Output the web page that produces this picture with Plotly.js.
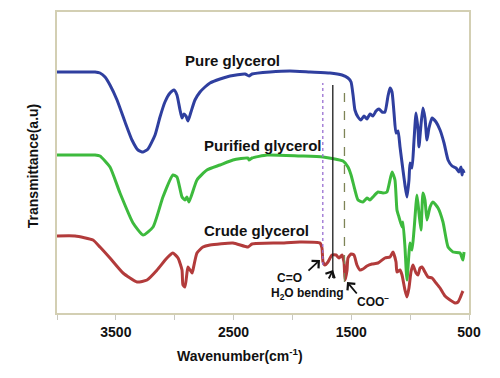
<!DOCTYPE html>
<html>
<head>
<meta charset="utf-8">
<script src="https://cdn.plot.ly/plotly-3.0.1.min.js"></script>
<style>html,body{margin:0;padding:0;background:#fff;}#chart{width:500px;height:378px;}</style>
</head>
<body>
<div id="chart"></div>
<script>
// Pure glycerol (blue)
const pureWn = [4000,3805,3677,3635,3592,3550,3490,3422,3363,3312,3269,3227,3167,3125,3083,3040,3006,2981,2955,2938,2921,2904,2887,2862,2828,2785,2743,2700,2615,2530,2403,2369,2343,2191,2021,1851,1681,1579,1528,1502,1485,1469,1443,1418,1392,1367,1341,1316,1290,1265,1239,1214,1188,1171,1154,1137,1120,1103,1086,1061,1044,1027,1010,1001,984,967,950,933,925,908,891,874,857,840,814,780,746,712,678,644,610,585,568,559,551,542];
const pureT  = [241,241,241,240,236,228,213,191,173,163,161,164,178,196,211,220,223,218,203,195,199,197,192,201,213,221,226,230,234,237,239,237,239,241,242,241,240,238,235,231,218,203,196,193,197,194,199,197,202,204,201,201,217,225,221,200,180,182,166,143,128,116,133,150,145,173,200,183,166,188,205,195,173,185,195,191,183,170,153,147,145,141,146,138,143,140];

// Purified glycerol (green)
const purifiedWn = [4000,3805,3677,3635,3550,3465,3354,3269,3184,3100,3015,2981,2938,2913,2896,2879,2811,2726,2615,2505,2377,2369,2343,2216,1936,1740,1570,1528,1502,1469,1443,1401,1367,1341,1316,1273,1231,1197,1154,1129,1112,1095,1069,1061,1044,1027,1001,984,967,942,925,908,891,874,857,831,806,763,721,678,636,576,559,551,542];
const purifiedT  = [158,158,158,157,146,120,90,78,86,116,138,136,116,113,116,111,133,143,148,153,155,153,155,158,157,156,152,146,138,123,113,111,115,113,116,121,120,121,141,133,103,96,86,91,66,33,70,63,83,118,100,83,120,113,93,106,111,105,91,66,61,60,55,53,61];

// Crude glycerol (red)
const crudeWn = [4000,3847,3694,3635,3550,3439,3320,3235,3150,3066,3015,2972,2938,2930,2913,2896,2887,2853,2845,2811,2760,2700,2505,2377,2343,2106,1936,1766,1749,1740,1723,1698,1664,1630,1604,1579,1562,1553,1536,1528,1502,1477,1452,1426,1401,1367,1324,1273,1214,1171,1146,1120,1112,1086,1069,1044,1027,1010,993,976,950,933,916,899,874,848,814,780,746,704,661,619,593,576,559,551];
const crudeT  = [77,77,73,66,55,40,31,33,43,55,60,55,43,28,26,40,46,40,43,60,66,68,70,66,69,70,71,70,65,51,48,51,58,58,55,58,51,33,43,55,59,58,48,43,44,47,49,50,55,56,61,51,41,43,38,23,16,25,41,48,40,38,45,46,41,36,35,30,25,17,13,10,11,15,20,22];

// Band marker lines (C=O, H2O bending, COO-)
const bandWn     = [1742, 1657, 1558];
const bandTop    = [230, 228, 222];
const bandBottom = [48, 35, 31];
const bandColors = ['#9a70d2', '#1a1a1a', '#7d8456'];
const bandDash   = ['dot', 'solid', 'dash'];

const seriesNames = ['Pure glycerol', 'Purified glycerol', 'Crude glycerol'];
const tickVals = [4000,3500,3000,2500,2000,1500,1000,500];
const tickText = ['','3500','','2500','','1500','','500'];

const FONT = 'Liberation Sans, Arial, sans-serif';

const traces = [
  {x: pureWn, y: pureT, mode: 'lines', line: {color: '#2f3f9f', width: 3, shape: 'spline', smoothing: 0.5}, name: seriesNames[0]},
  {x: purifiedWn, y: purifiedT, mode: 'lines', line: {color: '#3dba3d', width: 3, shape: 'spline', smoothing: 0.5}, name: seriesNames[1]},
  {x: crudeWn, y: crudeT, mode: 'lines', line: {color: '#b23b3b', width: 3, shape: 'spline', smoothing: 0.5}, name: seriesNames[2]}
];
bandWn.forEach((w, i) => {
  traces.push({x: [w, w], y: [bandBottom[i], bandTop[i]], mode: 'lines',
    line: {color: bandColors[i], width: 1.3, dash: bandDash[i]}, hoverinfo: 'skip'});
});

const bold = (size) => ({family: FONT, size: size, color: '#111', weight: 'bold'});
const txt = (x, y, text, size, extra) => Object.assign({x: x, y: y, xref: 'x', yref: 'y', text: text,
  showarrow: false, xanchor: 'center', yanchor: 'middle', font: bold(size)}, extra || {});
const arrow = (x, y, ax, ay) => ({x: x, y: y, xref: 'x', yref: 'y', ax: ax, ay: ay, text: '',
  showarrow: true, arrowhead: 4, arrowsize: 1.1, arrowwidth: 1.8, arrowcolor: '#111'});

const annotations = [
  txt(2513, 253, seriesNames[0], 15),
  txt(2250, 168, seriesNames[1], 15),
  txt(2309, 83, seriesNames[2], 15),
  txt(2021, 35, 'C=O', 12),
  txt(1876, 19, 'H<sub>2</sub>O bending', 12),
  txt(1316, 12, 'COO<sup>−</sup>', 12),
  arrow(1766, 53, -13, 12),
  arrow(1655, 43, -5, 10),
  arrow(1536, 31, 11, 13),
  {x: 0.444, y: -0.14, xref: 'paper', yref: 'paper', xanchor: 'center', yanchor: 'middle',
   text: 'Wavenumber(cm<sup>-1</sup>)', showarrow: false, font: bold(14)},
  {x: -0.058, y: 0.488, xref: 'paper', yref: 'paper', xanchor: 'center', yanchor: 'middle',
   text: 'Transmittance(a.u)', textangle: -90, showarrow: false, font: bold(14)}
];

const layout = {
  width: 500, height: 378,
  margin: {l: 57, r: 31, t: 12, b: 65},
  paper_bgcolor: '#fff', plot_bgcolor: '#fff',
  showlegend: false,
  font: {family: FONT, color: '#111'},
  xaxis: {
    range: [4000, 500], showgrid: false, zeroline: false,
    showline: true, mirror: true, linecolor: '#d3cfb3', linewidth: 2,
    ticks: 'outside', ticklen: 5, tickcolor: '#c8c8c0', tickwidth: 1,
    tickvals: tickVals, ticktext: tickText,
    tickfont: {family: FONT, size: 14, color: '#111', weight: 'bold'}
  },
  yaxis: {
    range: [0, 301], showgrid: false, zeroline: false,
    showline: true, mirror: true, linecolor: '#d3cfb3', linewidth: 2,
    ticks: '', showticklabels: false
  },
  annotations: annotations
};

Plotly.newPlot('chart', traces, layout, {displayModeBar: false, staticPlot: true});
</script>
</body>
</html>
